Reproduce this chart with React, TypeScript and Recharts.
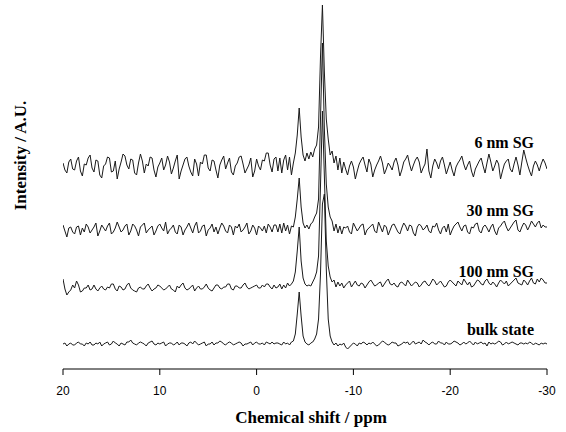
import { LineChart, Line, XAxis, YAxis } from 'recharts';

// chemical shift grid (ppm), one row = 2 ppm
const shifts = [
  20, 19.8, 19.6, 19.4, 19.2, 19, 18.8, 18.6, 18.4, 18.2,
  18, 17.8, 17.6, 17.4, 17.2, 17, 16.8, 16.6, 16.4, 16.2,
  16, 15.8, 15.6, 15.4, 15.2, 15, 14.8, 14.6, 14.4, 14.2,
  14, 13.8, 13.6, 13.4, 13.2, 13, 12.8, 12.6, 12.4, 12.2,
  12, 11.8, 11.6, 11.4, 11.2, 11, 10.8, 10.6, 10.4, 10.2,
  10, 9.8, 9.6, 9.4, 9.2, 9, 8.8, 8.6, 8.4, 8.2,
  8, 7.8, 7.6, 7.4, 7.2, 7, 6.8, 6.6, 6.4, 6.2,
  6, 5.8, 5.6, 5.4, 5.2, 5, 4.8, 4.6, 4.4, 4.2,
  4, 3.8, 3.6, 3.4, 3.2, 3, 2.8, 2.6, 2.4, 2.2,
  2, 1.8, 1.6, 1.4, 1.2, 1, 0.8, 0.6, 0.4, 0.2,
  0, -0.2, -0.4, -0.6, -0.8, -1, -1.2, -1.4, -1.6, -1.8,
  -2, -2.2, -2.4, -2.6, -2.8, -3, -3.2, -3.4, -3.6, -3.8,
  -4, -4.2, -4.4, -4.6, -4.8, -5, -5.2, -5.4, -5.6, -5.8,
  -6, -6.2, -6.4, -6.6, -6.8, -7, -7.2, -7.4, -7.6, -7.8,
  -8, -8.2, -8.4, -8.6, -8.8, -9, -9.2, -9.4, -9.6, -9.8,
  -10, -10.2, -10.4, -10.6, -10.8, -11, -11.2, -11.4, -11.6, -11.8,
  -12, -12.2, -12.4, -12.6, -12.8, -13, -13.2, -13.4, -13.6, -13.8,
  -14, -14.2, -14.4, -14.6, -14.8, -15, -15.2, -15.4, -15.6, -15.8,
  -16, -16.2, -16.4, -16.6, -16.8, -17, -17.2, -17.4, -17.6, -17.8,
  -18, -18.2, -18.4, -18.6, -18.8, -19, -19.2, -19.4, -19.6, -19.8,
  -20, -20.2, -20.4, -20.6, -20.8, -21, -21.2, -21.4, -21.6, -21.8,
  -22, -22.2, -22.4, -22.6, -22.8, -23, -23.2, -23.4, -23.6, -23.8,
  -24, -24.2, -24.4, -24.6, -24.8, -25, -25.2, -25.4, -25.6, -25.8,
  -26, -26.2, -26.4, -26.6, -26.8, -27, -27.2, -27.4, -27.6, -27.8,
  -28, -28.2, -28.4, -28.6, -28.8, -29, -29.2, -29.4, -29.6, -29.8,
  -30,
];

const sg6 = [
  4, -3, -6, 5, 8, -2, -3, 6, 10, -4,
  -9, 3, 2, 9, 12, -1, -5, 7, 6, -8,
  -11, 1, 3, 10, 9, -5, -4, 6, -12, -2,
  5, 13, 11, 2, -2, 8, 7, -6, -8, 4,
  13, 6, -6, 3, 1, 10, 9, -3, -10, 0,
  4, 9, -3, 2, 11, 5, -7, -1, 6, 12,
  -12, -4, 2, 8, 10, 1, -5, -9, 8, 3,
  -9, 5, 3, 12, 12, -1, -4, 7, 6, -3,
  -11, 2, 7, 11, -2, 4, 9, -5, -8, 1,
  4, 10, 11, 3, -6, -2, 2, 9, -10, -4,
  8, 1, -3, 7, 6, 14, 14, 2, -5, 8,
  10, -4, 9, -6, 7, 12, -3, 10, -8, 4,
  14, 32, 59, 30, 12, 6, 14, 8, 15, 10,
  18, 22, 40, 110, 162, 95, 48, 28, 12, 16,
  4, 11, -3, 9, -6, 5, -2, -8, 1, 6,
  0, -12, -4, 3, 7, 10, 2, -5, 8, 3,
  -10, -3, 2, 6, 11, 4, -7, -2, 4, 1,
  -3, 5, 9, 2, -9, -3, 5, 8, 12, 3,
  -4, 2, 7, 10, 5, -6, -1, 3, 18, -4,
  -11, 1, 8, 4, -2, 6, 10, 2, -7, -1,
  5, -3, -9, 0, 4, 7, 11, 3, -3, 2,
  6, -4, -10, -2, 2, 6, 9, 1, -6, 4,
  13, 5, -4, 1, 7, 3, -12, -4, 3, 6,
  8, -2, -5, 3, 10, 2, -8, 5, 17, 9,
  2, -4, -9, 1, 6, 2, -4, 3, 8, 4,
  -2,
];

const sg30 = [
  4, -2, -8, 1, 2, -3, -5, 2, 3, -6,
  1, -3, 5, 2, -4, -1, 2, 6, -7, -2,
  4, 1, -2, 3, 6, -5, -3, 1, 7, 2,
  -3, -1, 3, 5, -6, -2, 5, 3, -1, -7,
  2, 4, 6, -4, -1, 1, 3, -6, -2, 3,
  5, 1, -2, 7, -5, -1, 1, 4, -3, -5,
  4, 2, -6, -1, 2, 6, 1, -4, 3, 7,
  -4, -2, 3, 4, -7, -1, 1, 5, -3, 2,
  -5, 1, 6, 3, -2, -4, 4, 2, -6, 3,
  1, 5, -3, -1, 2, 6, -5, -2, 4, 1,
  -6, 3, 1, -2, 3, -4, 5, 2, -3, 4,
  4, -3, 5, -4, 6, -2, 4, -5, 3, 2,
  12, 30, 51, 22, 6, 1, 4, 0, 5, 7,
  12, 16, 30, 110, 186, 100, 45, 22, 12, 8,
  -2, 5, -4, 3, -5, 2, 1, 3, -3, -5,
  6, 2, -2, 1, 4, 5, -6, -1, 1, 3,
  5, -2, -4, 7, 2, -3, 4, 2, -6, -1,
  4, 5, 1, -3, -5, 1, 6, 3, -2, 4,
  3, -4, -7, 2, 5, 3, -1, 1, 4, -2,
  -4, 3, 2, 6, -1, -5, 1, 3, -3, 5,
  -6, -1, 3, 5, 7, 2, -2, 3, 4, -3,
  -5, 2, 1, 5, 6, -2, -4, 2, 4, 1,
  -3, 2, 5, -2, -6, 1, 3, 6, 8, 2,
  -2, 1, 4, 7, 9, -1, -3, 2, 6, 4,
  -1, 3, 8, 5, 2, 6, 8, 1, 4, 2,
  2,
];

const sg100 = [
  7, -3, -9, -6, -4, 1, -2, 5, 1, -6,
  -5, -2, -2, 1, -4, -3, 1, -3, -5, -2,
  0, -3, -4, -1, -2, 2, 2, -3, -5, 0,
  -1, -4, -3, 1, 3, -2, -4, -5, -6, -2,
  -1, -3, -3, 0, 2, -2, -5, -3, -2, 1,
  0, -2, -4, -3, -1, 1, -3, -4, -6, 0,
  -2, 1, 3, -2, -4, -3, -1, 1, -5, -2,
  0, -3, -3, -1, 2, -2, -4, -5, -2, 1,
  1, -2, -3, -1, -1, 2, 2, -3, -4, 0,
  0, -2, -2, 1, 3, -1, -3, -2, -1, 0,
  1, -2, -2, 1, -1, 2, 2, -1, -3, 1,
  -2, -1, 2, -3, 1, -2, 3, 0, 2, 5,
  14, 35, 59, 25, 8, 2, 0, 1, 0, 4,
  8, 14, 30, 100, 175, 110, 45, 20, 9, 4,
  6, -1, 4, 0, 3, -2, 1, 3, 5, -1,
  2, 5, 1, 0, 3, 2, -2, 1, 4, 6,
  3, 0, 1, 3, 4, -1, 2, 5, 7, 2,
  1, 3, 0, -1, 3, 4, 2, 0, 6, 3,
  0, 2, 4, 3, -1, 1, 4, 5, 2, 0,
  3, 7, 5, 1, 3, 5, 2, -1, 0, 4,
  6, 4, 2, 0, 5, 3, 1, 7, 4, 1,
  4, -1, 0, 3, 6, 5, 2, 1, 5, 7,
  3, 1, 4, 2, -1, 3, 6, 4, 2, 5,
  0, 2, 4, 6, 8, 3, 2, 1, 6, 4,
  1, 5, 8, 3, 2, 7, 4, 8, 6, 3,
  3,
];

const bulk = [
  0, 1, -2, 0, 1, -1, -1, 1, 2, 0,
  0, -2, 1, 0, 2, -1, -1, 1, 0, 2,
  -2, 0, 1, 2, -1, 0, 3, 1, 0, -2,
  1, 0, -1, 2, 2, 4, 1, 0, -1, 1,
  2, 1, 0, -2, 1, 2, 3, 0, -1, 1,
  0, 1, 2, -2, 0, 1, 1, -1, 0, 2,
  -1, 1, 1, 0, -2, 1, 2, 0, 3, 1,
  -1, 0, 1, 2, -2, 0, 0, 2, -1, 1,
  1, 3, 2, 0, -1, 1, 2, 1, -1, 0,
  1, 2, 1, -2, 0, 0, 1, 2, -1, 1,
  2, 0, 0, 1, -1, 2, 1, 0, 2, 0,
  1, 1, 0, -1, 2, 0, 1, -1, 2, 3,
  10, 30, 52, 28, 8, 2, 0, -1, 1, 2,
  5, 10, 25, 70, 140, 150, 75, 25, 8, 2,
  -1, 1, -2, 0, -1, 1, -3, -5, -3, -1,
  1, 0, -2, 1, 0, 2, 1, -1, 1, 0,
  2, 0, -2, -1, 1, 3, 2, 0, -1, 0,
  2, 1, 1, -2, -1, 0, 2, 1, 2, -1,
  1, 3, 0, 1, 2, 0, 4, 2, 1, -1,
  1, 2, 0, 0, 3, 1, 1, -1, 2, 0,
  0, 1, 3, 2, 1, -1, 0, 2, 0, 1,
  3, 1, -1, 2, 0, 1, 2, 0, 1, -2,
  2, 0, 1, 0, 1, 3, 2, -1, 0, 2,
  0, 1, 2, 1, 0, -1, 1, 1, 0, 1,
  0, 2, 1, -1, 1, 0, -1, 1, 0, 1,
  0,
];

const shiftTicks = [20, 10, 0, -10, -20, -30];

const seriesLabels = ['6 nm SG', '30 nm SG', '100 nm SG', 'bulk state'];

const data = shifts.map((s, i) => ({
  shift: s,
  sg6: sg6[i],
  sg30: sg30[i],
  sg100: sg100[i],
  bulk: bulk[i],
}));

const PLOT_H = 369;
// each spectrum gets its own hidden axis so it sits on its own baseline
const stackBase = { sg6: 167, sg30: 229, sg100: 286, bulk: 344 };

const serif = '"Liberation Serif", "Times New Roman", serif';
const labelStyle: React.CSSProperties = {
  position: 'absolute',
  right: 32,
  fontFamily: serif,
  fontWeight: 'bold',
  fontSize: 16,
  lineHeight: '16px',
  whiteSpace: 'nowrap',
};

export default function App() {
  const keys = ['sg6', 'sg30', 'sg100', 'bulk'] as const;
  const labelY = [135, 203, 264, 322];
  return (
    <div style={{ position: 'absolute', left: 0, top: 0, width: 566, height: 432, background: '#fff' }}>
      <LineChart width={566} height={432} data={data} margin={{ top: 0, right: 19, bottom: 33, left: 63 }}>
        <XAxis
          dataKey="shift"
          type="number"
          domain={[-30, 20]}
          reversed
          allowDataOverflow
          ticks={shiftTicks}
          interval={0}
          tickSize={6}
          tickMargin={11}
          stroke="#000"
          tick={{ fill: '#000', fontSize: 12, fontFamily: '"Liberation Sans", Arial, sans-serif' }}
        />
        {keys.map((k) => (
          <YAxis
            key={k}
            yAxisId={k}
            hide
            width={0}
            type="number"
            allowDataOverflow
            domain={[stackBase[k] - PLOT_H, stackBase[k]]}
          />
        ))}
        {keys.map((k) => (
          <Line
            key={k}
            yAxisId={k}
            dataKey={k}
            type="linear"
            dot={false}
            stroke="#1a1a1a"
            strokeWidth={1}
            isAnimationActive={false}
          />
        ))}
      </LineChart>
      {seriesLabels.map((t, i) => (
        <div key={t} style={{ ...labelStyle, top: labelY[i] }}>
          {t}
        </div>
      ))}
      <div
        style={{
          position: 'absolute',
          left: 0,
          width: 622,
          top: 409,
          textAlign: 'center',
          fontFamily: serif,
          fontWeight: 'bold',
          fontSize: 17,
          lineHeight: '17px',
        }}
      >
        Chemical shift / ppm
      </div>
      <div
        style={{
          position: 'absolute',
          left: 20 - 70,
          top: 155 - 8.5,
          width: 140,
          height: 17,
          textAlign: 'center',
          transform: 'rotate(-90deg)',
          fontFamily: serif,
          fontWeight: 'bold',
          fontSize: 17,
          lineHeight: '17px',
          whiteSpace: 'nowrap',
        }}
      >
        Intensity / A.U.
      </div>
    </div>
  );
}
